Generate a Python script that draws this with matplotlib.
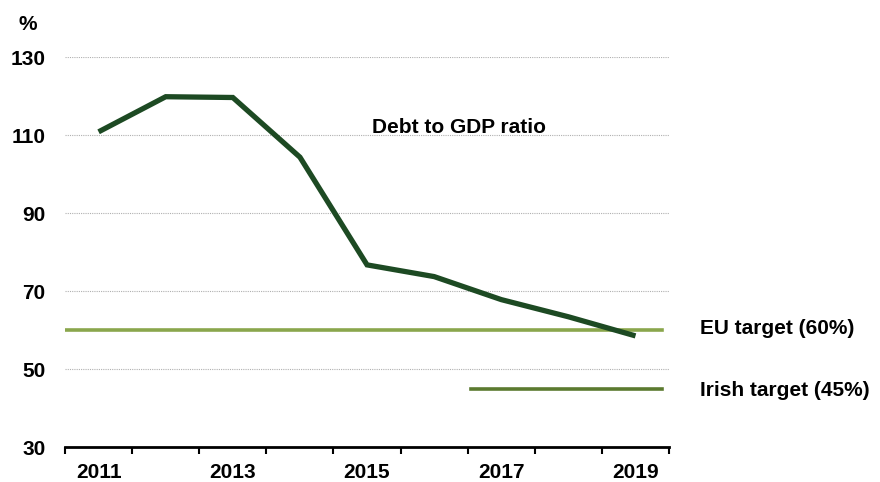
import numpy as np
import matplotlib.pyplot as plt

plt.rcParams['font.family'] = ['Liberation Sans', 'DejaVu Sans']
plt.rcParams['font.weight'] = 'bold'

# Data
years = ['2011', '2012', '2013', '2014', '2015', '2016', '2017', '2018', '2019']
debt_ratio = [110.9, 119.9, 119.7, 104.4, 76.8, 73.8, 67.9, 63.5, 58.6]
eu_target = 60
irish_target = 45

fig = plt.figure(figsize=(8.8, 4.82), dpi=100)
ax = fig.add_axes([0.0739, 0.0716, 0.6864, 0.8095])

x = np.arange(len(years))
ax.plot(x, debt_ratio, color='#1d4a23', lw=3.8, solid_capstyle='butt',
        solid_joinstyle='miter', zorder=4)

# target lines
ax.plot([-0.48, 8.4], [eu_target, eu_target], color='#8aa64c', lw=2.6, zorder=3)
ax.plot([5.55, 8.4], [irish_target, irish_target], color='#5b7a2f', lw=2.6, zorder=3)

ax.set_xlim(-0.5, len(years) - 0.5)
ax.set_ylim(30, 130)
ax.set_yticks([30, 50, 70, 90, 110, 130])
ax.yaxis.grid(True, color='#b0b0b0', linestyle=(0, (1, 1)), lw=0.8)
ax.set_axisbelow(True)

# categorical axis: ticks between categories, labels on odd years
ax.set_xticks(np.arange(-0.5, len(years), 1.0))
ax.set_xticklabels([])
ax.set_xticks(x[::2], minor=True)
ax.set_xticklabels(years[::2], minor=True)
ax.tick_params(axis='x', which='major', length=5, width=1.5, direction='out', color='black')
ax.tick_params(axis='x', which='minor', length=0, pad=11, labelsize=15)
ax.tick_params(axis='y', length=0, pad=14, labelsize=15)

for s in ['top', 'right', 'left']:
    ax.spines[s].set_visible(False)
ax.spines['bottom'].set_linewidth(2)

fig.text(28 / 880, 1 - 24 / 482, '%', ha='center', va='center', fontsize=15, fontweight='bold')
ax.text(5.37, 112.1, 'Debt to GDP ratio', ha='center', va='center', fontsize=15, fontweight='bold')
fig.text(700 / 880, 1 - 328 / 482, 'EU target (60%)', ha='left', va='center', fontsize=15, fontweight='bold')
fig.text(700 / 880, 1 - 391 / 482, 'Irish target (45%)', ha='left', va='center', fontsize=15, fontweight='bold')

fig.savefig('out.png', dpi=100)
